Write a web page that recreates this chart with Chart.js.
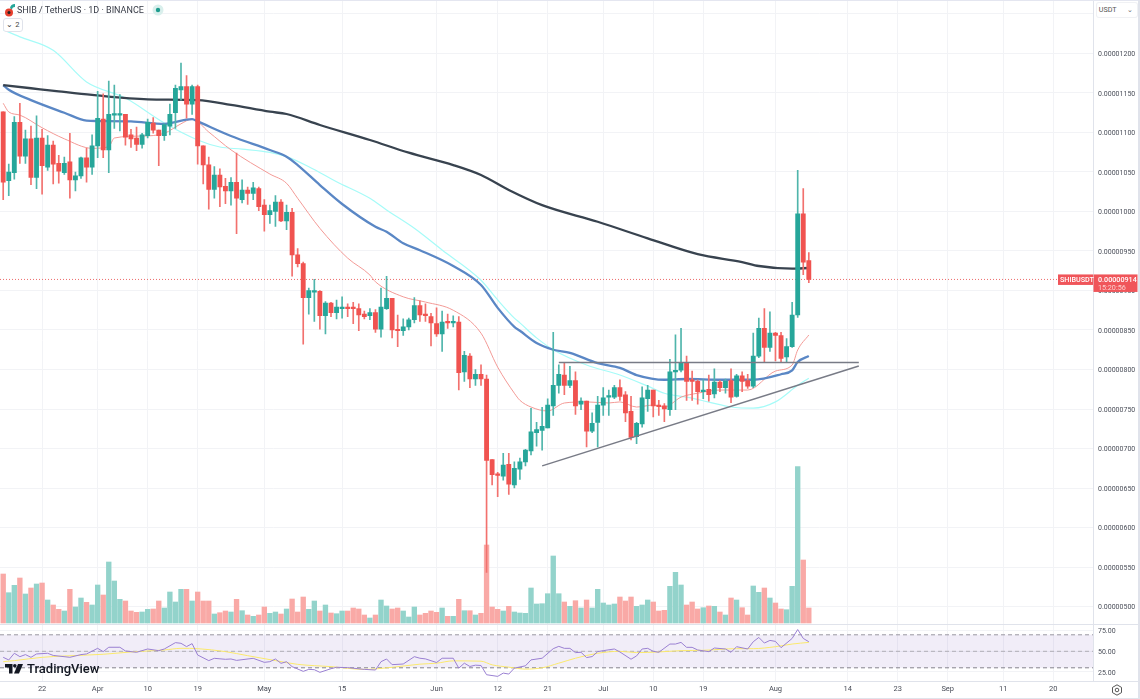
<!DOCTYPE html>
<html><head><meta charset="utf-8">
<style>
html,body{margin:0;padding:0;background:#fff;width:1140px;height:699px;overflow:hidden;font-family:Roboto,sans-serif}
#wrap{position:relative;width:1140px;height:699px}
#c{position:absolute;left:0;top:0}
.a{position:absolute;white-space:nowrap}
</style>
<script src="https://cdn.jsdelivr.net/npm/chart.js@4/dist/chart.umd.min.js"></script>
</head><body><div id="wrap">
<canvas id="c" width="1140" height="699"></canvas>
<div class="a" style="left:0;top:0;width:1140px;height:1px;background:#e4e6f0"></div>
<div class="a" style="left:0;top:698px;width:1140px;height:1px;background:#e0e3eb"></div>
<div class="a" style="left:1138px;top:0;width:2px;height:699px;background:#e0e3eb"></div>
<div class="a" style="left:1094px;top:1px;width:44px;height:19px;background:#fff"></div>
<div class="a" style="left:1097px;top:3px;width:40px;height:14px;border-radius:2px;box-shadow:0 0 0 1px #f0f1f4;font-size:7.2px;line-height:14px;color:#555">&nbsp;USDT<span style="position:absolute;right:4px;color:#666;font-size:7px">⌄</span></div>
<svg class="a" style="left:3px;top:3px" width="14" height="14" viewBox="0 0 14 14"><path d="M7 5a5 5 0 0 1 5-4v3a3 3 0 0 0-3 3z" fill="#26a69a"/><circle cx="6" cy="9.500" r="4" fill="#e8402f"/><circle cx="6" cy="9.500" r="1.500" fill="#222"/></svg>
<div class="a" style="left:17px;top:4px;font-size:9px;line-height:13px;color:#363a45">SHIB / TetherUS · 1D · BINANCE</div>
<svg class="a" style="left:152px;top:4px" width="12" height="12"><circle cx="6" cy="6" r="5.500" fill="#d9efec"/><circle cx="6" cy="6" r="2.200" fill="#1e9c8e"/></svg>
<div class="a" style="left:3px;top:18px;width:18px;height:12px;border:1px solid #e0e3eb;border-radius:3px;background:#fff;font-size:7.5px;line-height:12px;color:#444;text-align:center">⌄ 2</div>
<svg class="a" style="left:5px;top:664px" width="18" height="10" viewBox="0 0 18 10"><path d="M0 0h7.500v9.500H4V3.500H0z" fill="#131722"/><circle cx="9.800" cy="1.800" r="1.800" fill="#131722"/><path d="M13 0h5l-4 9.500H9z" fill="#131722"/></svg>
<div class="a" style="left:27px;top:661px;font-size:13px;line-height:16px;font-weight:500;color:#131722">TradingView</div>
<svg class="a" style="left:1111px;top:684px" width="12" height="12" viewBox="0 0 12 12" fill="none" stroke="#444" stroke-width=".9"><path d="M6 .8 10.500 3.400v5.200L6 11.200 1.500 8.600V3.400z"/><circle cx="6" cy="6" r="1.800"/></svg>
</div>
<script>
// Prices are in units of 0.00000001 USDT. Day 0 = 15 March.
const tickDays=[7,17,26,35,47,61,78,89,98,108,117,126,139,152,161,170,180,189];
const tickLabels=['22','Apr','10','19','May','15','Jun','12','21','Jul','10','19','Aug','14','23','Sep','11','20'];
const priceTicks=[1250,1200,1150,1100,1050,1000,950,900,850,800,750,700,650,600,550,500];
const rsiTicks=[75,50,25];
const opens=[1126,1039,1049,1113,1070,1092,1043,1093,1056,1084,1061,1049,1063,1040,1045,1068,1056,1083,1117,1078,
1122,1122,1123,1097,1093,1085,1096,1112,1103,1096,
1108,1125,1154,1158,1136,1158,1083,1059,1028,1046,
1032,1026,1037,1015,1027,1023,1029,1008,996,1000,
1012,988,999,945,934,891,898,899,868,884,
872,877,879,878,877,870,868,872,851,877,
890,851,849,854,863,881,870,867,858,845,
860,859,860,797,817,788,794,788,686,667,
665,680,654,674,683,697,720,723,726,754,
780,793,780,786,756,760,722,733,755,765,
765,777,768,747,715,731,763,774,755,754,
749,797,799,809,786,785,772,775,769,784,
777,786,766,792,786,779,817,852,828,846,
843,816,829,869,997,938];
const highs=[1126,1060,1120,1137,1103,1108,1121,1104,1096,1089,1071,1069,1099,1050,1069,1080,1097,1152,1149,1165,
1160,1148,1123,1104,1107,1099,1117,1119,1103,1111,
1136,1160,1188,1172,1160,1160,1083,1069,1057,1054,
1042,1043,1074,1040,1031,1037,1031,1015,1008,1020,
1015,1008,1004,953,936,903,914,900,886,885,
888,892,883,885,883,874,877,876,903,918,
890,869,864,865,891,887,883,871,878,874,
870,868,867,823,820,800,806,793,686,670,
694,694,683,688,699,751,733,752,763,847,
806,809,804,797,764,760,745,766,777,774,
780,787,772,766,733,778,780,774,761,757,
813,844,852,817,798,787,787,793,801,786,
788,801,794,797,794,846,865,877,873,847,
847,839,885,1052,1029,948];
const lows=[1015,1020,1041,1061,1061,1034,1029,1022,1052,1035,1036,1047,1017,1026,1042,1037,1047,1068,1068,1049,
1105,1102,1084,1081,1077,1080,1093,1099,1058,1090,
1097,1105,1141,1118,1123,1060,1035,1003,1017,1006,
1010,1008,972,1011,1009,1015,1001,975,985,981,
987,977,918,930,832,870,861,851,845,867,
864,865,867,858,849,864,863,847,841,876,
840,829,843,850,859,861,861,830,842,823,
852,854,774,785,777,780,780,543,654,639,
660,642,650,661,678,692,703,698,726,742,
770,768,777,743,749,702,720,702,742,742,
763,761,734,711,706,727,747,740,742,734,
742,749,797,761,761,756,763,760,764,772,
770,758,765,772,776,777,815,809,823,811,
809,810,828,866,920,910];
const closes=[1037,1050,1113,1070,1092,1043,1093,1058,1084,1060,1051,1061,1040,1045,1068,1056,1083,1118,1078,1123,
1123,1123,1094,1092,1085,1097,1113,1103,1096,1110,
1123,1156,1158,1136,1158,1083,1059,1028,1046,1031,
1026,1037,1017,1027,1023,1030,1006,996,1001,1012,
988,999,945,934,891,900,899,868,884,872,
879,879,877,877,869,867,872,851,879,890,
850,849,854,863,881,869,868,859,845,860,
859,860,796,818,788,794,788,685,667,666,
679,655,675,683,698,721,724,728,755,780,
794,780,786,754,760,722,732,755,764,766,
777,766,745,714,732,764,774,754,753,750,
797,798,809,785,785,772,774,768,784,777,
785,765,792,785,779,817,852,828,846,843,
814,829,869,997,936,914];
const volumes=[49,30.3,37.7,45,29,35,39,40,23,18,13.7,12,33.7,16,25,20.7,18,38,28,61,
42,23.7,22,12,10.7,11,13.7,14,22,15,31,21,33.7,33.7,22,31,22,22,9,10.3,
12,11,23.7,12.3,8,6.7,8,16,9.7,11,9,14,24,11,26,13.7,22,12,18,10,
9.3,12,12,15,14,8,5,8,23,17,14,15,12,6,16,8,
9.7,12,10.7,15,6.7,6.7,23.7,12.3,12.3,8,9.7,78,16,13.7,12,16.7,11,10,9.7,35,
19,19.3,29.3,67,29.3,21,16.7,22.3,15,23,15,33.7,20,18,19,26,22,26,16.7,18,
23,21,12,12.7,36.7,50.7,38,18,21,14,15.3,17,16.7,11,8,25,23,15.3,8,37,
30.7,35,25,20,14,13.3,36.7,156.3,63,15];
const darkDays=[0,5,10,16,26,35,41,48,51,57,66,73,81,86,91,97,107,116,125,133,136,142,145];
const darkMA=[1160,1156,1152,1147.5,1142,1141,1135,1126.3,1123.4,1109.5,1090.5,1074.4,1058.8,1046.2,1027.2,1008,987,966,946,936,931,927.6,928.5];
const blueDays=[0,1,5,11,15,17,23,29,34,35,41,48,51,53,57,61,67,69,72,75,81,86,89,92,93,96,99,102,107,111,114,119,123,129,135,140,142,143,145];
const blueMA=[1160,1154,1141,1125,1115,1114.5,1114,1111,1117,1114,1095.5,1077.8,1069.4,1058.8,1033.5,1009.5,980.7,974.4,959.7,951,931,907,878,854,849,833.5,825,821,808,802,793,787,788,787,787,794,799,809.5,817];
const redDays=[0,1,3,7,11,16,19,20,25,29,32,34,37,41,48,51,53,57,62,66,67,72,76,81,86,89,92,93,95,98,101,105,109,111,114,117,119,122,125,129,134,139,142,143,145];
const redMA=[1137,1126,1122,1106,1092,1080,1082,1093,1095.5,1099,1111,1117,1100.6,1078,1047.4,1035.7,1016.7,978.7,941,919.6,911,892,885.4,875,846,803,770,761,752.5,747.5,757.6,759,757.6,759,752.5,755,752.5,765,770,774,774,798,805.7,824.7,843.7];
const cyanDays=[0,3,9,15,22,29,35,39,43,48,51,55,60,66,69,74,79,86,89,92,93,96,99,105,111,116,119,123,127,131,135,139,143,145];
const cyanMA=[1230,1221,1204,1164,1143.6,1112,1090.5,1081.6,1079,1074.9,1069.4,1056.7,1037.7,1016.7,1001.9,978.7,951.2,913,888,865,859,840,825,805.7,793,779,770,765,758.8,752.5,751,759,780,789];
const rsiDays=[0,1,2,3,4,5,6,8,9,12,14,15,17,18,19,21,22,24,26,28,29,31,32,33,34,35,37,38,40,41,42,45,47,48,49,50,51,52,54,55,56,57,59,60,62,65,67,68,69,70,72,74,
75,76,78,79,81,82,83,84,85,86,87,89,90,91,92,94,95,97,99,100,101,102,103,104,105,106,107,108,110,111,113,114,115,116,117,118,120,121,122,123,124,125,127,128,130,131,132,134,135,136,137,138,139,140,142,143,144,145];
const rsiValues=[42.7,39.5,47.6,43.5,46,42.7,46.8,47.6,45,42.7,46,46.8,53.6,49.6,54.9,54.9,50.4,48.8,52.8,50.8,52.8,60.5,59.7,55.7,59.3,45.5,38.7,41.5,40.3,40.7,39,41.5,36.6,37.4,40.7,35.4,37.4,31.4,25.7,28.1,27.7,24.5,28.9,30.6,30.2,28.1,27.3,37.4,40.7,33.8,34.6,43.5,
41.6,40.8,36.4,41.6,41.6,29.6,35.6,31.6,33.2,32.8,21.6,19.6,23.6,22.4,29.6,32.4,39.6,41.6,53.2,56,53.6,53.6,48.4,48.8,42.4,43.6,49.6,50.8,52.8,49.2,40.4,44.4,52.8,53.6,50,48.8,58.8,58.8,60.8,54.8,54.8,51.6,49.6,54,52.8,48.8,55.6,52.8,61.6,66.8,60,63.2,62,54.4,65.6,76.4,65.6,61.6];
const rsiMaDays=[0,2,7,11,18,23,29,32,35,40,44,49,53,59,65,70,75,78,81,86,88,91,94,97,100,103,107,111,114,118,122,126,132,135,139,142,145];
const rsiMaValues=[37.4,38.7,42.7,44.3,46.4,49.2,51.6,53.6,53.2,49.6,44.7,38.7,34.2,31.4,28.1,30.6,34.4,35.6,38.4,38,33.6,30.8,28.4,30,35.6,41.6,47.6,50,48.4,49.2,50.8,51.2,53.2,53.2,55.6,58.8,60.8];
const resistanceDays=[100,154], resistanceLevel=[809,809];
const supportDays=[97,154], supportLevel=[678,804.4];
const lastPrice=914;
const symbolTag='SHIBUSDT', priceTag='0.00000914', countdownTag='15:20:56';

const XMIN=-0.576, XMAX=196.15;
const UP='#26a69a', DOWN='#f05350';
const isUp=i=>closes[i]>=opens[i];
const pts=(xs,ys)=>xs.map((x,i)=>({x,y:ys[i]}));
const days=opens.map((_,i)=>i);
const GRID='#f2f3f6', AXIS='#e0e3eb', TXT='#4a4e59';
const SMOOTH={cubicInterpolationMode:'monotone'};
const lineDS=(label,xs,ys,yAxisID,color,width,order,extra)=>Object.assign({type:'line',label,data:pts(xs,ys),yAxisID,xAxisID:'x',borderColor:color,borderWidth:width,pointRadius:0,tension:0,order,fill:false},extra||{});
const barDS=(label,data,yAxisID,thick,colors,order,extra)=>Object.assign({type:'bar',label,data,yAxisID,xAxisID:'x',barThickness:thick,backgroundColor:colors,grouped:false,borderWidth:0,order},extra||{});
const fitY=s=>{s.width=47;s.paddingTop=0;s.paddingBottom=0;};

const tagPlugin={id:'tags',
 beforeDatasetsDraw(ch){const c=ch.ctx;c.save();c.strokeStyle=AXIS;c.lineWidth=1;
  const sep=Math.round(ch.scales.yRsi.top)+.5, bot=Math.round(ch.chartArea.bottom)+.5;
  c.beginPath();c.moveTo(0,sep);c.lineTo(1140,sep);c.moveTo(0,bot);c.lineTo(1140,bot);c.stroke();c.restore();},
 afterDraw(ch){const c=ch.ctx,y=ch.scales.y.getPixelForValue(lastPrice),r=ch.chartArea.right;c.save();
  c.fillStyle='#f0555a';
  c.fillRect(r-35,y-5,35,10.500);
  c.fillRect(r+.5,y-5,44,17.500);
  c.fillStyle='#fff';c.textBaseline='middle';c.textAlign='left';
  c.font='500 7.2px Roboto';
  c.fillText(symbolTag,r-33,y+.3);
  c.fillText(priceTag,r+5,y+.3);
  c.fillStyle='#fbd0cf';c.font='7.2px Roboto';
  c.fillText(countdownTag,r+5,y+8.300);
  c.restore();}
};

new Chart(document.getElementById('c'),{
 data:{datasets:[
  lineDS('Overbought',[XMIN,XMAX],[70,70],'yRsi','#9a98a2',1,30,{borderDash:[4,3],fill:{value:30},backgroundColor:'rgba(126,87,194,0.11)'}),
  lineDS('Midline',[XMIN,XMAX],[50,50],'yRsi','#b0aeb6',1,29,{borderDash:[4,3]}),
  lineDS('Oversold',[XMIN,XMAX],[30,30],'yRsi','#85838d',1,29,{borderDash:[4,3]}),
  lineDS('RSI MA',rsiMaDays,rsiMaValues,'yRsi','#fbe96c',1,21,SMOOTH),
  lineDS('RSI',rsiDays,rsiValues,'yRsi','#9a80d2',1,20),
  barDS('Volume',pts(days,volumes),'yVol',4.700,days.map(i=>isUp(i)?'#93d3cb':'#f9a9a6'),25),
  lineDS('Last price',[XMIN,XMAX],[lastPrice,lastPrice],'y','#ec6a6a',1,24,{borderDash:[1,2]}),
  lineDS('MA cyan',cyanDays,cyanMA,'y','#a6fbf8',1.200,15,SMOOTH),
  lineDS('MA red',redDays,redMA,'y','#f39a96',1,14,SMOOTH),
  lineDS('MA blue',blueDays,blueMA,'y','#5a87c5',2.300,13,SMOOTH),
  lineDS('MA dark',darkDays,darkMA,'y','#38434f',2.300,12,SMOOTH),
  barDS('Wick',days.map(i=>({x:i,y:[lows[i],highs[i]]})),'y',1,days.map(i=>isUp(i)?'#4fb5ab':'#f2716e'),6),
  barDS('Body',days.map(i=>({x:i,y:[Math.min(opens[i],closes[i]),Math.max(opens[i],closes[i])]})),'y',4.200,days.map(i=>isUp(i)?UP:DOWN),5,{minBarLength:1.500}),
  lineDS('Resistance',resistanceDays,resistanceLevel,'y','#787b86',1.500,3),
  lineDS('Support',supportDays,supportLevel,'y','#787b86',1.500,3)
 ]},
 options:{responsive:false,animation:false,devicePixelRatio:1,
  layout:{padding:0},
  parsing:{xAxisKey:'x',yAxisKey:'y'},
  plugins:{legend:{display:false},tooltip:{enabled:false}},
  scales:{
   x:{type:'linear',position:'bottom',offset:false,min:XMIN,max:XMAX,
    afterBuildTicks(s){s.ticks=tickDays.map(v=>({value:v}));},
    afterFit(s){s.height=18;s.paddingLeft=0;s.paddingRight=0;},
    grid:{offset:false,color:GRID,drawTicks:false,lineWidth:1},border:{display:false},
    ticks:{autoSkip:false,maxRotation:0,padding:4,color:TXT,font:{family:'Roboto',size:7.500},
     callback(v){const k=tickDays.indexOf(v);return k<0?'':tickLabels[k];}}},
   y:{type:'linear',position:'right',stack:'price',stackWeight:623.5,min:478.5,max:1267.7,
    afterBuildTicks(s){s.ticks=priceTicks.map(v=>({value:v}));},
    afterFit:fitY,
    grid:{color:GRID,drawTicks:false},border:{color:AXIS},
    ticks:{padding:5,labelOffset:1,color:TXT,autoSkip:false,font:{family:'Roboto',size:7},callback(v){return v>1200?'':(v*1e-8).toFixed(8);}}},
   yRsi:{type:'linear',position:'right',stack:'price',stackWeight:57.5,min:14,max:83.700,
    afterBuildTicks(s){s.ticks=rsiTicks.map(v=>({value:v}));},
    afterFit:fitY,
    grid:{color:GRID,drawTicks:false},border:{color:AXIS},
    ticks:{padding:5,labelOffset:1,color:TXT,autoSkip:false,font:{family:'Roboto',size:7},callback(v){return v.toFixed(2);}}},
   yVol:{type:'linear',display:false,min:-58,max:623}
  }},
 plugins:[tagPlugin]
});
</script></body></html>
